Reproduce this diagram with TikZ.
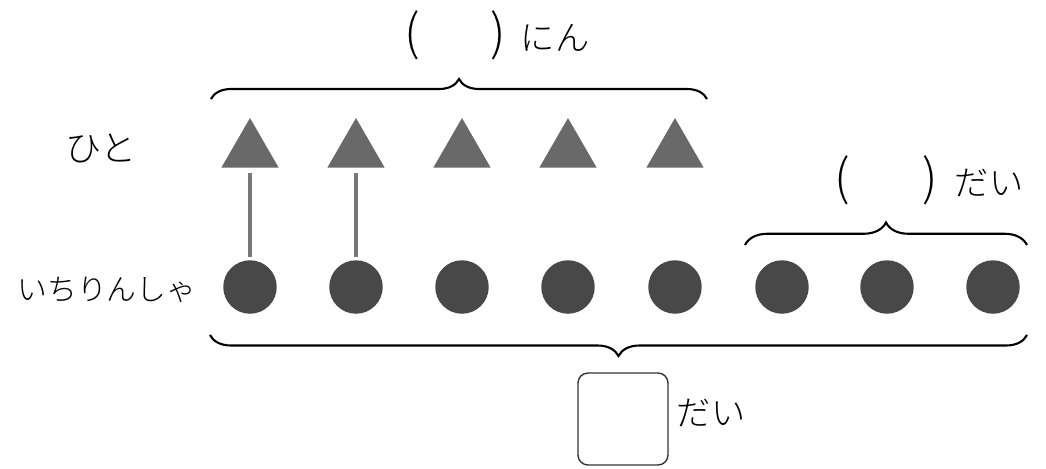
\documentclass[tikz,border=0pt]{standalone}
\usepackage{fontspec}
\usepackage{xcolor}
\usetikzlibrary{shapes.geometric,decorations.pathreplacing}
\newfontfamily\jpfont{Noto Sans CJK JP Light}
\definecolor{personfill}{RGB}{105,105,105}
\definecolor{bikefill}{RGB}{72,72,72}
\definecolor{linkgray}{RGB}{120,120,120}

\tikzset{
    person/.style={regular polygon, regular polygon sides=3, fill=personfill, inner sep=0pt, minimum size=1.32cm},
    bike/.style={circle, fill=bikefill, inner sep=0pt, minimum size=1.07cm},
    link/.style={draw=linkgray, line width=2.4pt, shorten <=1.5pt, shorten >=3pt},
    bracket/.style={decorate, decoration={brace, amplitude=#1}, line width=1.2pt},
    jptext/.style={font=\jpfont\fontsize{19.5}{24}\selectfont, inner sep=0pt},
    paren/.style={font=\jpfont\fontsize{28}{32}\selectfont, inner sep=0pt},
    answerbox/.style={draw=black!80, line width=0.8pt, rounded corners=0.2cm, minimum width=1.8cm, minimum height=1.84cm}
}

\begin{document}
\begin{tikzpicture}[x=0.02cm, y=-0.02cm]
    \useasboundingbox (0,0) rectangle (1046,468);

    % row labels
    \node[jptext, font=\jpfont\fontsize{20.5}{24}\selectfont] (hito) at (101,148) {ひと};
    \node[jptext, font=\jpfont\fontsize{17}{21}\selectfont] (unicycle) at (107,290) {いちりんしゃ};

    % people
    \node[person] (t1) at (250,151) {};
    \node[person] (t2) at (356,151) {};
    \node[person] (t3) at (462,151) {};
    \node[person] (t4) at (568,151) {};
    \node[person] (t5) at (675,151) {};

    % unicycles
    \node[bike] (c1) at (250,287) {};
    \node[bike] (c2) at (356,287) {};
    \node[bike] (c3) at (462,287) {};
    \node[bike] (c4) at (568,287) {};
    \node[bike] (c5) at (675,287) {};
    \node[bike] (c6) at (782,287) {};
    \node[bike] (c7) at (887,287) {};
    \node[bike] (c8) at (993,287) {};

    \draw[link] (c1.north) -- (t1.south);
    \draw[link] (c2.north) -- (t2.south);

    % braces
    \draw[bracket=0.4cm] (211,99) -- (707,99);
    \draw[bracket=0.45cm] (745,245) -- (1027,245);
    \draw[bracket=0.42cm] (1027,335) -- (210,335);

    % top answer
    \node[paren] (lp1) at (412,35) {(};
    \node[paren] (rp1) at (498,35) {)};
    \node[jptext] (nin) at (555,38) {にん};

    % right answer
    \node[paren] (lp2) at (842,180) {(};
    \node[paren] (rp2) at (930,180) {)};
    \node[jptext] (dai1) at (989,183) {だい};

    % bottom answer
    \node[answerbox] (box) at (623,419) {};
    \node[jptext] (dai2) at (711,413) {だい};
\end{tikzpicture}
\end{document}
